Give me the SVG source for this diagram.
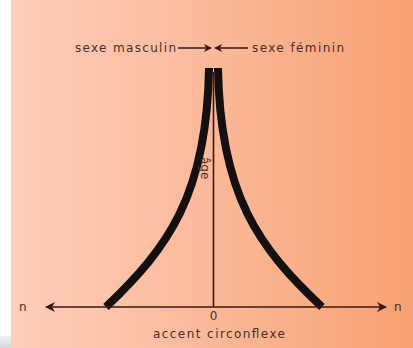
<svg xmlns="http://www.w3.org/2000/svg" width="413" height="348" viewBox="0 0 413 348">
<defs>
<linearGradient id="bg" x1="0" y1="0" x2="1" y2="0">
<stop offset="0" stop-color="#fdceba"/>
<stop offset="0.5" stop-color="#fbb999"/>
<stop offset="1" stop-color="#f7a171"/>
</linearGradient>
<linearGradient id="gr" x1="0" y1="0" x2="0" y2="1">
<stop offset="0" stop-color="#f0f0f0"/>
<stop offset="1" stop-color="#d8d8d8"/>
</linearGradient>
<marker id="ah" viewBox="0 0 10 10" refX="9" refY="5" markerWidth="11" markerHeight="10" markerUnits="userSpaceOnUse" orient="auto-start-reverse">
<path d="M0,0 L10,5 L0,10 L3,5 Z" fill="#3a1616"/>
</marker>
<marker id="sh" viewBox="0 0 10 10" refX="9" refY="5" markerWidth="8" markerHeight="9" markerUnits="userSpaceOnUse" orient="auto">
<path d="M0,0 L10,5 L0,10 L3,5 Z" fill="#3a1616"/>
</marker>
</defs>
<style>
.t{font-family:"DejaVu Sans","Liberation Sans",sans-serif;font-size:12px;fill:#4a2e28}
.ax{stroke:#3a1616;stroke-width:1.6;fill:none}
.cv{stroke:#141010;stroke-width:8;fill:none;stroke-linecap:butt}
</style>
<rect x="0" y="0" width="413" height="348" fill="#ffffff"/>
<rect x="11" y="0" width="402" height="348" fill="url(#bg)"/>
<rect x="0" y="336" width="11" height="12" fill="url(#gr)"/>

<g id="curve-left"><path class="cv" d="M209,68 C207,195 168,248 106,307"/></g>
<g id="curve-right"><path class="cv" d="M218,68 C220,195 259,248 322,307"/></g>

<g id="connectors">
<line class="ax" x1="213.5" y1="72" x2="213.5" y2="307"/>
<line class="ax" x1="46" y1="307" x2="386" y2="307" marker-start="url(#ah)" marker-end="url(#ah)"/>
<line class="ax" x1="178" y1="48" x2="211" y2="48" marker-end="url(#sh)"/>
<line class="ax" x1="248" y1="48" x2="215" y2="48" marker-end="url(#sh)"/>
</g>

<g id="label-masc"><text class="t" x="75" y="52" textLength="101">sexe masculin</text></g>
<g id="label-fem"><text class="t" x="252" y="52" textLength="92">sexe féminin</text></g>
<g id="label-age"><text class="t" font-size="10" transform="translate(201,157) rotate(90)">âge</text></g>
<g id="label-n-left"><text class="t" x="19" y="311">n</text></g>
<g id="label-n-right"><text class="t" x="394" y="311">n</text></g>
<g id="label-zero"><text class="t" x="213.5" y="320" text-anchor="middle" font-size="9">0</text></g>
<g id="label-accent"><text class="t" x="153" y="338" textLength="132">accent circonflexe</text></g>
</svg>
